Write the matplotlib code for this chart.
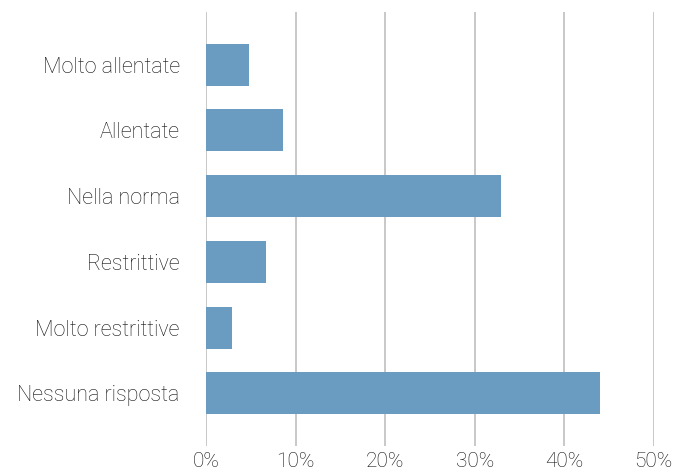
import matplotlib
matplotlib.use("Agg")
import matplotlib.pyplot as plt
from matplotlib.ticker import FuncFormatter

categories = ["Molto allentate", "Allentate", "Nella norma", "Restrittive",
              "Molto restrittive", "Nessuna risposta"]
values = [4.8, 8.6, 33.0, 6.7, 2.9, 44.0]
xticks = [0, 10, 20, 30, 40, 50]

plt.rcParams['font.family'] = ['Roboto', 'DejaVu Sans']
fig = plt.figure(figsize=(6.9, 4.72), dpi=100)
ax = fig.add_axes([0.2986, 0.0551, 0.9474 - 0.2986, 0.9746 - 0.0551])

y = list(range(len(categories)))
ax.barh(y, values, height=0.64, color="#6a9bc0", zorder=2)
ax.set_ylim(len(categories) - 0.2, -0.8)
ax.set_xlim(0, 50)
ax.set_xticks(xticks)
ax.xaxis.set_major_formatter(FuncFormatter(lambda v, p: f"{v:.0f}%"))
ax.set_yticks(y)
ax.set_yticklabels(categories)
ax.grid(axis='x', color="#c4c4c4", linewidth=1.3, zorder=0)
ax.set_axisbelow(True)
for s in ax.spines.values():
    s.set_visible(False)
ax.tick_params(axis='both', length=0, labelsize=15.5, colors="#111111")
ax.tick_params(axis='x', labelsize=15)
ax.tick_params(axis='y', pad=19)
ax.tick_params(axis='x', pad=4)
for lbl in ax.get_xticklabels() + ax.get_yticklabels():
    lbl.set_fontweight('light')

fig.savefig("out.png", dpi=100)
